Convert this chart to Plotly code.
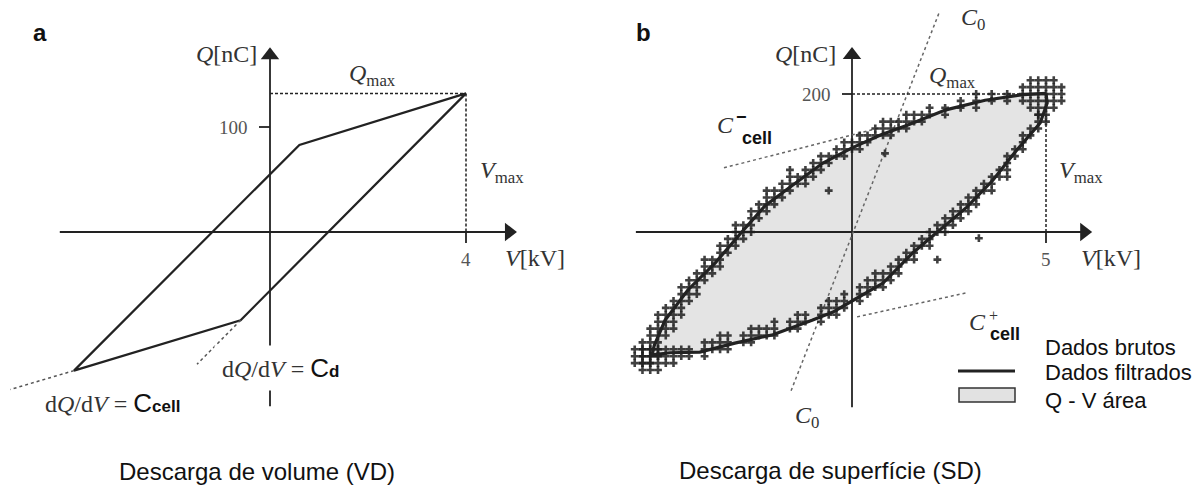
import plotly.graph_objects as go

W, H = 1203, 491

# ---------------- Panel a : Descarga de volume (VD) ----------------
vd_loop_v = [4.0, 0.6, -4.0, -0.6, 4.0]
vd_loop_q = [132, 83, -132, -84, 132]
vd_ccell_ext_v = [-4.0, -5.3]
vd_ccell_ext_q = [-132, -150]
vd_cd_ext_v = [-0.6, -1.49]
vd_cd_ext_q = [-84, -126]
vd_vmax, vd_qmax, vd_qtick = 4, 132, 100
vd_vaxis = [-4.29, 5.04]
vd_qaxis = [-166, 176]

# ---------------- Panel b : Descarga de superficie (SD) ----------------
sd_upper_v = [5.0, 4.41, 3.43, 2.42, 1.44, 0.75, 0.0, -0.75, -1.55, -2.24, -2.84,
              -3.53, -4.23, -4.82, -5.10, -5.15]
sd_upper_q = [201, 199, 191, 177, 155, 141, 122, 100, 67, 38, 0,
              -45, -84, -128, -165, -178]
sd_lower_v = [-5.15, -4.69, -3.92, -3.02, -2.04, -1.03, -0.49, 0.0, 0.80, 1.57,
              2.19, 2.96, 3.63, 4.25, 4.85, 5.03, 5.0]
sd_lower_q = [-178, -175, -174, -161, -149, -128, -116, -100, -74, -30,
              0, 36, 75, 119, 158, 187, 201]

# raw (noisy) samples, grouped by voltage column
sd_raw_upper = {
    -5.6: [-190, -180, -170], -5.4: [-190, -180, -170, -160],
    -5.2: [-190, -180, -170, -160, -150, -140],
    -5.0: [-180, -170, -160, -150, -140, -130, -120], -4.8: [-150, -140, -130, -120, -110],
    -4.6: [-140, -130, -120, -110, -100], -4.4: [-120, -110, -100, -90, -80],
    -4.2: [-100, -90, -80, -70], -4.0: [-90, -80, -70, -60], -3.8: [-70, -60, -50, -40],
    -3.6: [-60, -50, -40], -3.4: [-50, -40, -30, -20], -3.2: [-30, -20, -10],
    -3.0: [-20, -10, 0, 10], -2.8: [-10, 0, 10], -2.6: [0, 10, 20, 30],
    -2.4: [20, 30, 40], -2.2: [30, 40, 50, 60], -2.0: [40, 50, 60], -1.8: [50, 60, 70],
    -1.6: [60, 70, 80, 90], -1.4: [70, 80], -1.2: [70, 80, 90], -1.0: [80, 90, 100],
    -0.8: [90, 100, 110], -0.6: [100, 110], -0.4: [110, 120], -0.2: [110, 120, 130],
    0.0: [120, 130], 0.2: [120, 130, 140], 0.4: [130, 140], 0.6: [140, 150],
    0.8: [140, 150, 160], 1.0: [140, 150, 160], 1.2: [150, 160], 1.4: [150, 160, 170],
    1.6: [160, 170], 1.8: [160, 170], 2.0: [170, 180], 2.4: [170, 180],
    2.8: [180, 190], 3.2: [180, 190, 200], 3.6: [190, 200], 4.0: [190, 200],
    4.4: [190, 200, 210], 4.6: [180, 190, 200, 210, 220],
    4.8: [170, 180, 190, 200, 210, 220], 5.0: [160, 170, 180, 190, 200, 210, 220],
    5.2: [180, 190, 200, 210, 220], 5.4: [190, 200, 210],
}
sd_raw_lower = {
    -5.4: [-200, -190, -180, -170], -5.2: [-200, -190, -180, -170],
    -5.0: [-200, -190, -180, -170], -4.8: [-190, -180, -170],
    -4.6: [-190, -180, -170], -4.4: [-180, -170], -4.2: [-180, -170],
    -3.8: [-180, -170, -160], -3.6: [-170, -160], -3.4: [-170, -160, -150],
    -3.2: [-170, -160, -150], -2.8: [-160, -150], -2.6: [-160, -150, -140],
    -2.4: [-150, -140], -2.2: [-150, -140], -2.0: [-150, -140, -130],
    -1.6: [-140, -130], -1.4: [-140, -130, -120], -1.2: [-130, -120],
    -0.8: [-130, -120, -110], -0.6: [-120, -110, -100], -0.4: [-120, -110, -100],
    -0.2: [-110, -100, -90], 0.2: [-100, -90, -80], 0.4: [-90, -80, -70],
    0.6: [-80, -70, -60], 0.8: [-80, -70, -60], 1.0: [-70, -60, -50],
    1.2: [-60, -50, -40], 1.4: [-40, -30], 1.6: [-40, -30, -20], 1.8: [-20, -10],
    2.0: [-20, -10, 0], 2.2: [0, 10], 2.4: [0, 10, 20], 2.6: [10, 20, 30],
    2.8: [20, 30, 40], 3.0: [30, 40, 50], 3.2: [40, 50, 60], 3.4: [60, 70],
    3.6: [60, 70, 80], 3.8: [80, 90], 4.0: [80, 90, 100, 110], 4.2: [110, 120],
    4.4: [120, 130, 140], 4.6: [140, 150], 4.8: [150, 160, 170],
}
sd_raw_stray_v = [0.85, 3.27, 2.2, -0.6]
sd_raw_stray_q = [114, -9, -40, 60]

sd_c0_v = [-1.57, 2.24]
sd_c0_q = [-230, 317]
sd_ccell_minus_v = [-3.30, 0.72]
sd_ccell_minus_q = [93, 151]
sd_ccell_plus_v = [0.13, 2.96]
sd_ccell_plus_q = [-123, -88]
sd_vmax, sd_qmax = 5, 200
sd_vaxis = [-5.57, 6.19]
sd_qaxis = [-254, 268]

legend_labels = ["Dados brutos", "Dados filtrados", "Q - V área"]

# ---------------- layout calibration (pixels per unit) ----------------
ax_px, ax_py, a_sx, a_sy = 270, 232, 49.0, 1.05     # panel a origin & scale
bx_px, bx_py, b_sx, b_sy = 852, 232, 38.8, 0.69     # panel b origin & scale
SPLIT = 600
HEAD = 8  # arrowhead half-size in px

SERIF = "Liberation Serif, Times New Roman, serif"
SANS = "Liberation Sans, Arial, sans-serif"
INK = "#222"
TXT = "#333"

fig = go.Figure()


def axes_traces(xa, ya, vspan, qspan, sx, sy):
    # axis lines
    fig.add_trace(go.Scatter(x=[vspan[0], vspan[1] - HEAD / sx], y=[0, 0], mode="lines",
                             line=dict(color=INK, width=1.8), xaxis=xa, yaxis=ya,
                             hoverinfo="skip"))
    fig.add_trace(go.Scatter(x=[0, 0], y=[qspan[0], qspan[1] - HEAD / sy], mode="lines",
                             line=dict(color=INK, width=1.8), xaxis=xa, yaxis=ya,
                             hoverinfo="skip"))
    # arrow heads
    fig.add_trace(go.Scatter(x=[vspan[1] - HEAD / sx, 0], y=[0, qspan[1] - HEAD / sy],
                             mode="markers",
                             marker=dict(symbol=["triangle-right", "triangle-up"], size=16,
                                         color=INK, line=dict(width=0)),
                             xaxis=xa, yaxis=ya, hoverinfo="skip"))


# ---- panel a traces
axes_traces("x", "y", vd_vaxis, vd_qaxis, a_sx, a_sy)
fig.add_trace(go.Scatter(x=vd_loop_v, y=vd_loop_q, mode="lines",
                         line=dict(color=INK, width=2.2), xaxis="x", yaxis="y",
                         hoverinfo="skip"))
for vv, qq in [(vd_ccell_ext_v, vd_ccell_ext_q), (vd_cd_ext_v, vd_cd_ext_q)]:
    fig.add_trace(go.Scatter(x=vv, y=qq, mode="lines",
                             line=dict(color="#555", width=1.5, dash="dot"),
                             xaxis="x", yaxis="y", hoverinfo="skip"))

# ---- panel b traces
poly_v = sd_upper_v + sd_lower_v
poly_q = sd_upper_q + sd_lower_q
fig.add_trace(go.Scatter(x=poly_v, y=poly_q, mode="lines", fill="toself",
                         fillcolor="#e4e4e4", line=dict(width=0),
                         xaxis="x2", yaxis="y2", hoverinfo="skip"))
axes_traces("x2", "y2", sd_vaxis, sd_qaxis, b_sx, b_sy)
for vv, qq in [(sd_c0_v, sd_c0_q), (sd_ccell_minus_v, sd_ccell_minus_q),
               (sd_ccell_plus_v, sd_ccell_plus_q)]:
    fig.add_trace(go.Scatter(x=vv, y=qq, mode="lines",
                             line=dict(color="#666", width=1.5, dash="dot"),
                             xaxis="x2", yaxis="y2", hoverinfo="skip"))

raw_v, raw_q = [], []
for col in (sd_raw_upper, sd_raw_lower):
    for v, qs in col.items():
        for q in qs:
            raw_v.append(v)
            raw_q.append(q)
raw_v += sd_raw_stray_v
raw_q += sd_raw_stray_q
fig.add_trace(go.Scatter(x=raw_v, y=raw_q, mode="markers",
                         marker=dict(symbol="cross", size=6.5, color="#1e1e1e",
                                     opacity=0.85, line=dict(width=0)),
                         xaxis="x2", yaxis="y2", hoverinfo="skip"))
fig.add_trace(go.Scatter(x=sd_upper_v + sd_lower_v[1:], y=sd_upper_q + sd_lower_q[1:],
                         mode="lines", line=dict(color=INK, width=3.2),
                         xaxis="x2", yaxis="y2", hoverinfo="skip"))

shapes = []
ann = []


def dline(xr, yr, x0, y0, x1, y1, dash="solid", width=1.8, color=INK):
    shapes.append(dict(type="line", xref=xr, yref=yr, x0=x0, y0=y0, x1=x1, y1=y1,
                       line=dict(color=color, width=width, dash=dash)))


def label(xr, yr, x, y, text, size=24, font=SERIF, color=TXT, xanchor="center",
          yanchor="middle", xshift=0, yshift=0, **kw):
    ann.append(dict(xref=xr, yref=yr, x=x, y=y, text=text, showarrow=False,
                    font=dict(family=font, size=size, color=color),
                    xanchor=xanchor, yanchor=yanchor, xshift=xshift, yshift=yshift, **kw))


# ---- panel a guides
dline("x", "y", 0, vd_qmax, vd_vmax, vd_qmax, dash="3px,2px", width=1.5)
dline("x", "y", vd_vmax, vd_qmax, vd_vmax, 0, dash="3px,2px", width=1.5)
dline("x", "y", vd_vmax, 0, vd_vmax, -11 / a_sy)
dline("x", "y", -11 / a_sx, vd_qtick, 0, vd_qtick)

label("x", "y", 0, (ax_py - 54) / a_sy, "<i>Q</i>[nC]", xanchor="right", xshift=-11)
label("x", "y", 0, vd_qtick, str(vd_qtick), size=19, color="#555", xanchor="right", xshift=-20)
label("x", "y", 2.1, (ax_py - 75) / a_sy, "<i>Q</i><sub>max</sub>")
label("x", "y", vd_vmax, (ax_py - 172) / a_sy, "<i>V</i><sub>max</sub>", xanchor="left", xshift=12)
label("x", "y", vd_vmax, 0, str(vd_vmax), size=19, color="#555", yanchor="top", yshift=-15)
label("x", "y", vd_vaxis[1], 0, "<i>V</i>[kV]", xanchor="left", yanchor="top", xshift=-14, yshift=-11)
label("x", "y", 0.22, (ax_py - 368) / a_sy,
      'd<i>Q</i>/d<i>V</i> = <span style="font-family:Liberation Sans;font-size:26px;color:#111">C</span>'
      '<span style="font-family:Liberation Sans;font-size:17px;font-weight:bold;color:#111">d</span>',
      bgcolor="white", borderpad=7)
label("x", "y", -3.22, (ax_py - 403) / a_sy,
      'd<i>Q</i>/d<i>V</i> = <span style="font-family:Liberation Sans;font-size:26px;color:#111">C</span>'
      '<span style="font-family:Liberation Sans;font-size:17px;font-weight:bold;color:#111">cell</span>')

# ---- panel b guides
dline("x2", "y2", 0, sd_qmax, sd_vmax, sd_qmax, dash="3px,2px", width=1.5)
dline("x2", "y2", sd_vmax, sd_qmax, sd_vmax, 0, dash="3px,2px", width=1.5)
dline("x2", "y2", sd_vmax, 0, sd_vmax, -11 / b_sy)
dline("x2", "y2", -10 / b_sx, sd_qmax, 0, sd_qmax)

label("x2", "y2", 0, (bx_py - 54) / b_sy, "<i>Q</i>[nC]", xanchor="right", xshift=-14)
label("x2", "y2", 0, sd_qmax, str(sd_qmax), size=19, color="#555", xanchor="right", xshift=-19)
label("x2", "y2", 2.6, (bx_py - 77) / b_sy, "<i>Q</i><sub>max</sub>")
label("x2", "y2", sd_vmax, (bx_py - 172) / b_sy, "<i>V</i><sub>max</sub>", xanchor="left", xshift=11)
label("x2", "y2", sd_vmax, 0, str(sd_vmax), size=19, color="#555", yanchor="top", yshift=-15)
label("x2", "y2", sd_vaxis[1], 0, "<i>V</i>[kV]", xanchor="left", yanchor="top", xshift=-13, yshift=-11)
label("x2", "y2", (973 - bx_px) / b_sx, (bx_py - 19) / b_sy, "<i>C</i><sub>0</sub>")
label("x2", "y2", (807 - bx_px) / b_sx, (bx_py - 417) / b_sy, "<i>C</i><sub>0</sub>")
# C- cell
label("x2", "y2", (725 - bx_px) / b_sx, (bx_py - 125) / b_sy, "<i>C</i>")
label("x2", "y2", (741 - bx_px) / b_sx, (bx_py - 117) / b_sy, "<b>−</b>", size=18, font=SANS, color="#111")
label("x2", "y2", (757 - bx_px) / b_sx, (bx_py - 138) / b_sy, "<b>cell</b>", size=18, font=SANS, color="#111")
# C+ cell
label("x2", "y2", (977 - bx_px) / b_sx, (bx_py - 322) / b_sy, "<i>C</i>")
label("x2", "y2", (993 - bx_px) / b_sx, (bx_py - 315) / b_sy, "+", size=16, color=TXT)
label("x2", "y2", (1005 - bx_px) / b_sx, (bx_py - 334) / b_sy, "<b>cell</b>", size=18, font=SANS, color="#111")

# ---- legend (drawn by hand)
leg_y = [347, 372, 400]
for lab, py in zip(legend_labels, leg_y):
    label("paper", "paper", 1043 / W, 1 - py / H, lab, size=22, font=SANS, color="#111",
          xanchor="left")
shapes.append(dict(type="line", xref="paper", yref="paper", x0=958 / W, x1=1015 / W,
                   y0=1 - 371 / H, y1=1 - 371 / H, line=dict(color=INK, width=3)))
shapes.append(dict(type="rect", xref="paper", yref="paper", x0=959 / W, x1=1015 / W,
                   y0=1 - 402 / H, y1=1 - 388 / H, fillcolor="#e2e2e2",
                   line=dict(color="#333", width=1.5)))

# ---- panel letters and titles
label("paper", "paper", 40 / W, 1 - 32 / H, "<b>a</b>", size=24, font=SANS, color="#111")
label("paper", "paper", 643 / W, 1 - 32 / H, "<b>b</b>", size=24, font=SANS, color="#111")
label("paper", "paper", 257 / W, 1 - 471 / H, "Descarga de volume (VD)", size=24, font=SANS, color="#111")
label("paper", "paper", 830 / W, 1 - 470 / H, "Descarga de superfície (SD)", size=24, font=SANS, color="#111")

fig.update_layout(
    width=W, height=H, margin=dict(l=0, r=0, t=0, b=0),
    paper_bgcolor="white", plot_bgcolor="white", showlegend=False,
    xaxis=dict(domain=[0, SPLIT / W], range=[-ax_px / a_sx, (SPLIT - ax_px) / a_sx], visible=False),
    yaxis=dict(domain=[0, 1], range=[(ax_py - H) / a_sy, ax_py / a_sy], visible=False),
    xaxis2=dict(domain=[SPLIT / W, 1], range=[(SPLIT - bx_px) / b_sx, (W - bx_px) / b_sx], visible=False),
    yaxis2=dict(domain=[0, 1], range=[(bx_py - H) / b_sy, bx_py / b_sy], visible=False, anchor="x2"),
    shapes=shapes, annotations=ann,
)

fig.write_html("out.html")
